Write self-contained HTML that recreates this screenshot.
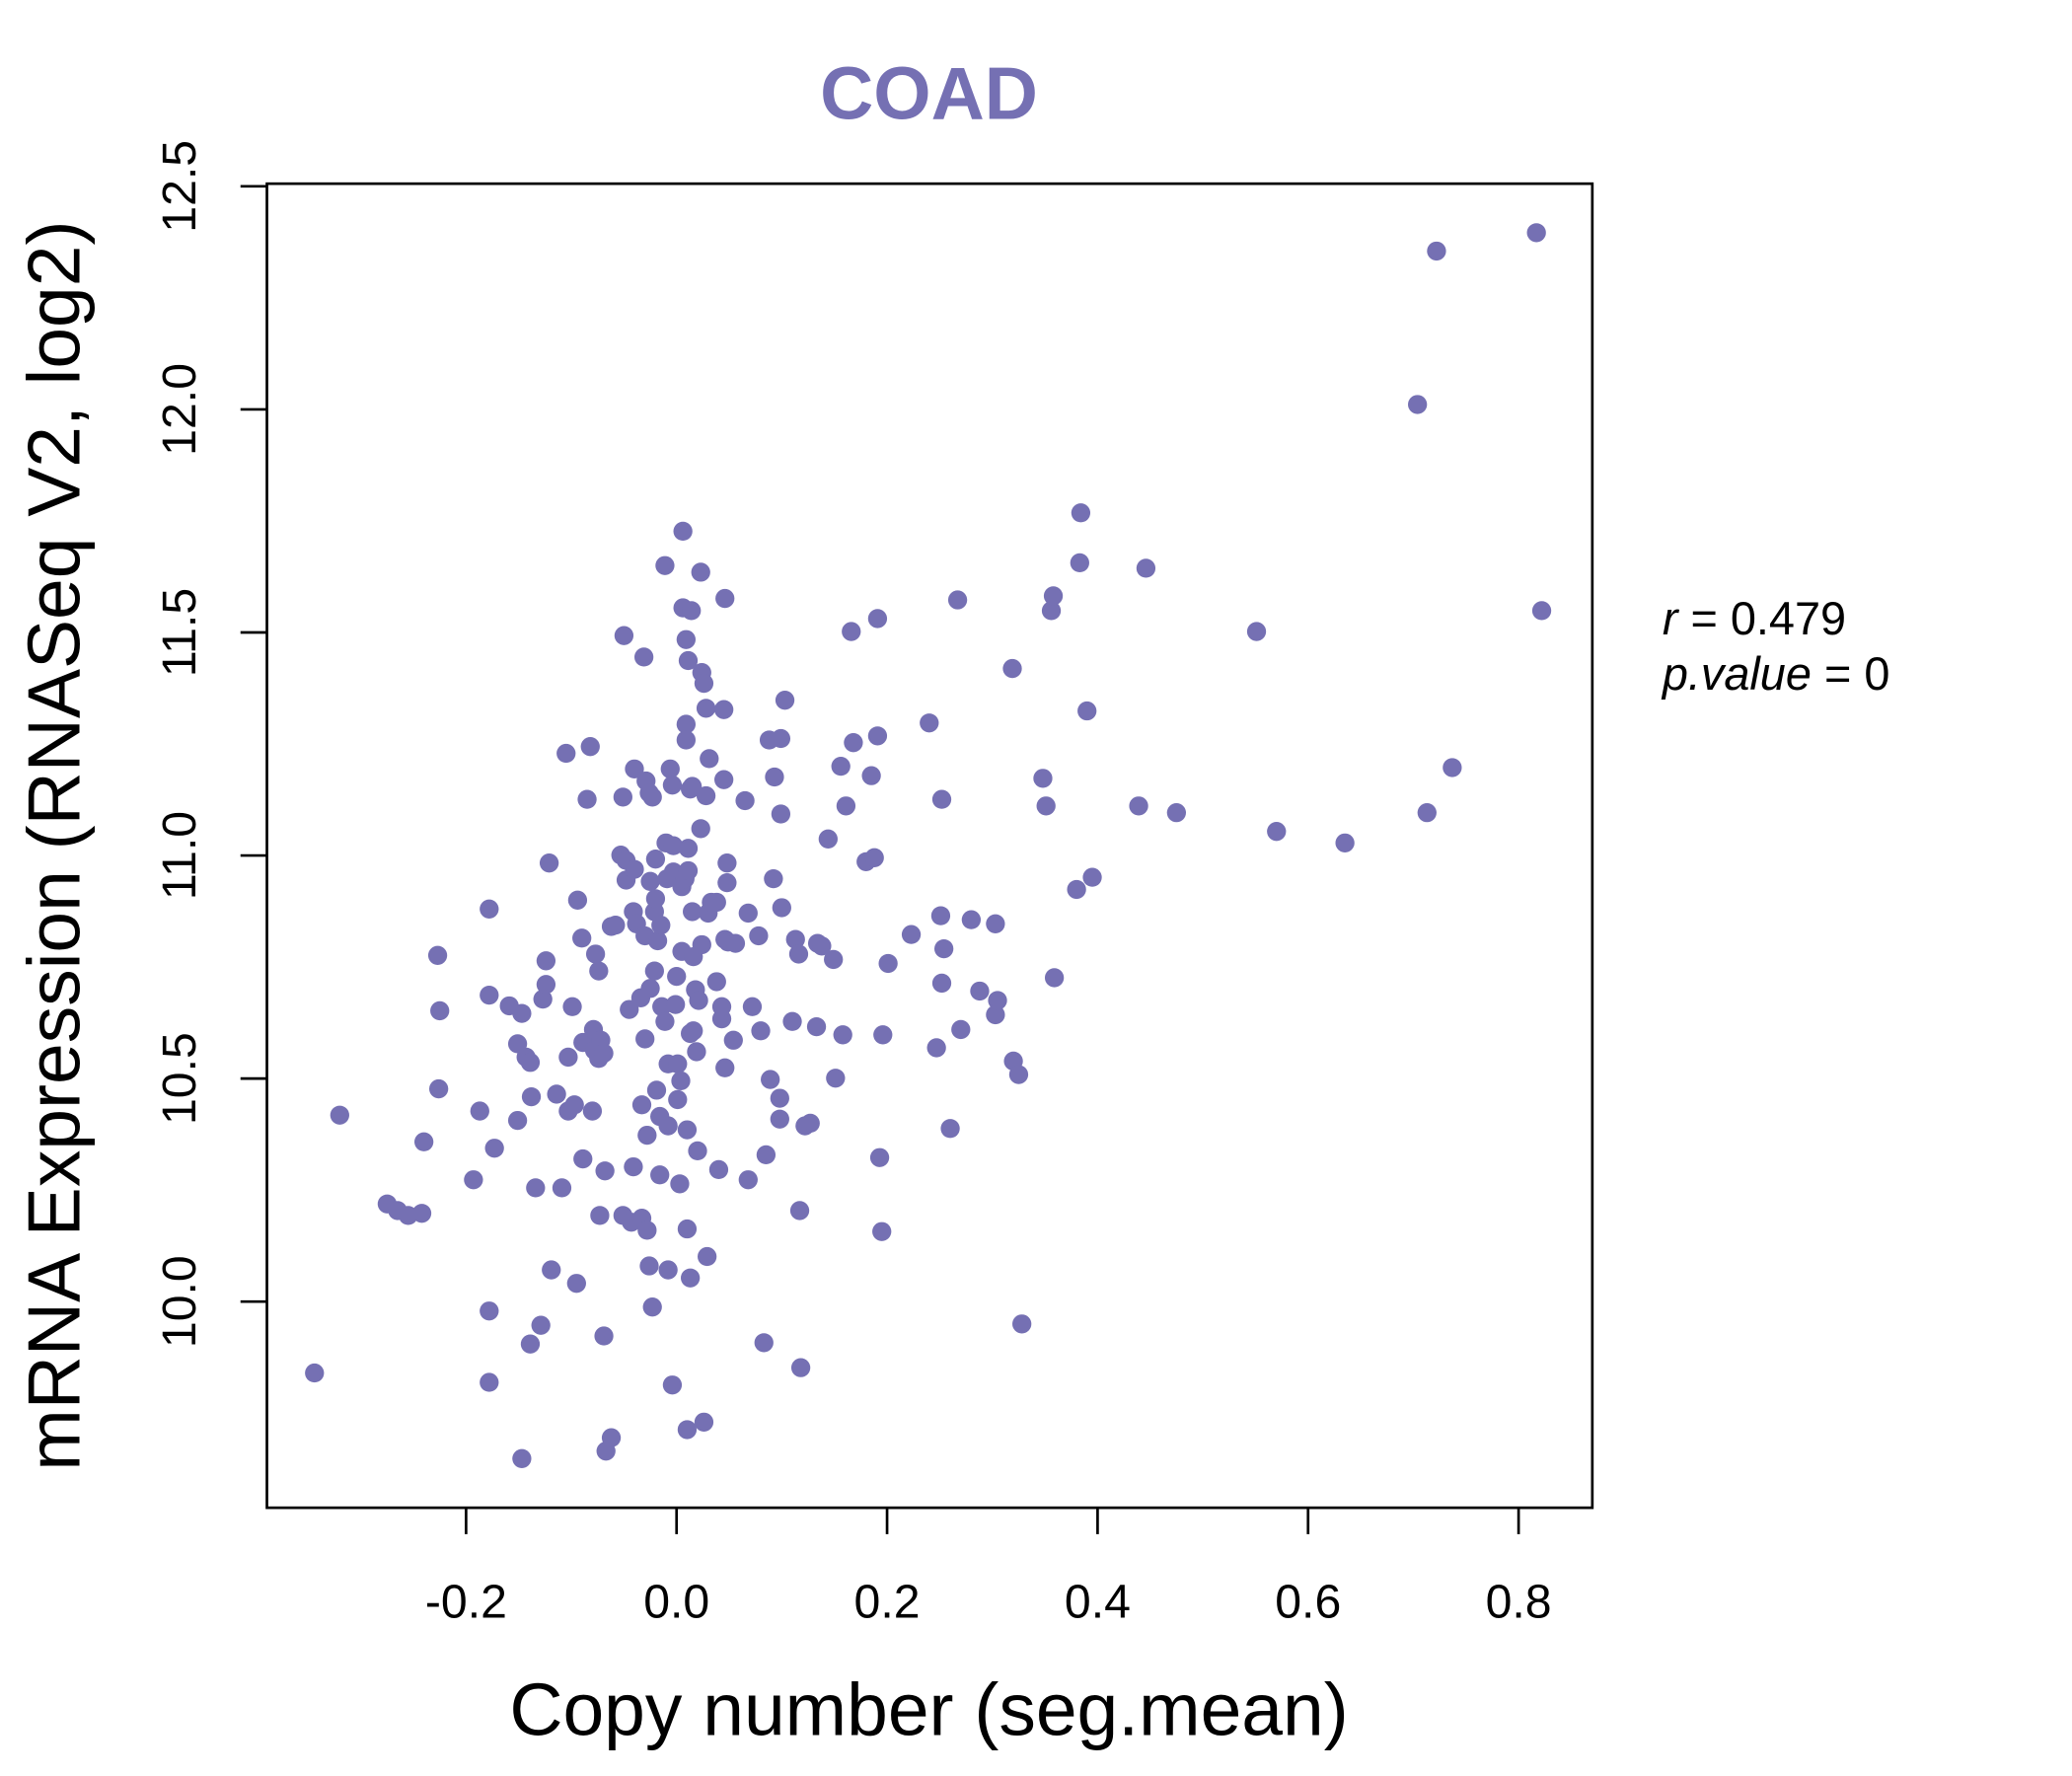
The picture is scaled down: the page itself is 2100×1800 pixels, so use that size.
<!DOCTYPE html>
<html><head><meta charset="utf-8"><style>
html,body{margin:0;padding:0;background:#fff;}
svg{display:block;font-family:"Liberation Sans",sans-serif;}
</style></head><body>
<svg id="chart" width="2100" height="1800" viewBox="0 0 1568 1344" xmlns="http://www.w3.org/2000/svg">
<rect x="0" y="0" width="1568" height="1344" fill="#fff"/>
<text x="703" y="90" text-anchor="middle" font-size="56" font-weight="bold" fill="#7570b3">COAD</text>
<g id="points"></g>
<rect x="202" y="139" width="1003" height="1002" fill="none" stroke="#000" stroke-width="2"/>
<g id="xaxis"></g>
<g id="yaxis"></g>
<text x="703" y="1313" text-anchor="middle" font-size="56">Copy number (seg.mean)</text>
<text transform="translate(60,640) rotate(-90)" text-anchor="middle" font-size="56">mRNA Expression (RNASeq V2, log2)</text>
<text x="1258" y="480" font-size="35"><tspan font-style="italic">r</tspan> = 0.479</text>
<text x="1258" y="522" font-size="35"><tspan font-style="italic">p.value</tspan> = 0</text>
</svg>
<script>
const xTicks = [-0.2, 0.0, 0.2, 0.4, 0.6, 0.8];
const xTickLabels = ["-0.2", "0.0", "0.2", "0.4", "0.6", "0.8"];
const yTicks = [10.0, 10.5, 11.0, 11.5, 12.0, 12.5];
const yTickLabels = ["10.0", "10.5", "11.0", "11.5", "12.0", "12.5"];
const copyNumber = [-0.344,-0.320,-0.275,-0.265,-0.255,-0.242,-0.240,-0.227,-0.225,-0.226,-0.193,-0.187,-0.178,-0.178,-0.178,-0.178,-0.173,-0.159,-0.151,-0.151,-0.147,-0.147,-0.143,-0.139,-0.139,-0.138,-0.134,-0.129,-0.127,-0.124,-0.124,-0.121,-0.119,-0.114,-0.109,-0.105,-0.103,-0.103,-0.099,-0.097,-0.095,-0.094,-0.090,-0.089,-0.089,-0.085,-0.082,-0.080,-0.079,-0.078,-0.077,-0.074,-0.074,-0.073,-0.072,-0.069,-0.069,-0.068,-0.067,-0.062,-0.062,-0.058,-0.053,-0.051,-0.051,-0.050,-0.048,-0.048,-0.045,-0.043,-0.041,-0.041,-0.040,-0.040,-0.038,-0.034,-0.033,-0.033,-0.031,-0.030,-0.030,-0.029,-0.028,-0.028,-0.026,-0.026,-0.025,-0.025,-0.023,-0.023,-0.021,-0.021,-0.020,-0.020,-0.019,-0.018,-0.016,-0.016,-0.015,-0.014,-0.011,-0.011,-0.010,-0.009,-0.008,-0.008,-0.008,-0.006,-0.004,-0.004,-0.003,-0.003,-0.001,0.000,0.001,0.001,0.003,0.004,0.005,0.005,0.006,0.006,0.008,0.009,0.009,0.009,0.010,0.010,0.010,0.011,0.011,0.011,0.013,0.013,0.013,0.014,0.015,0.015,0.016,0.016,0.018,0.019,0.020,0.021,0.023,0.023,0.024,0.024,0.026,0.026,0.028,0.028,0.029,0.030,0.031,0.033,0.038,0.038,0.040,0.043,0.043,0.045,0.045,0.046,0.046,0.046,0.048,0.048,0.049,0.054,0.056,0.065,0.068,0.068,0.072,0.078,0.080,0.083,0.085,0.088,0.089,0.092,0.093,0.098,0.098,0.099,0.099,0.100,0.103,0.110,0.113,0.116,0.117,0.118,0.122,0.127,0.133,0.134,0.138,0.144,0.149,0.151,0.158,0.156,0.161,0.166,0.168,0.180,0.185,0.188,0.191,0.191,0.193,0.195,0.196,0.201,0.223,0.240,0.247,0.251,0.252,0.252,0.254,0.260,0.267,0.270,0.280,0.288,0.303,0.303,0.305,0.319,0.320,0.325,0.328,0.348,0.351,0.356,0.358,0.380,0.383,0.384,0.390,0.395,0.439,0.446,0.475,0.551,0.570,0.635,0.704,0.713,0.722,0.737,0.817,0.822,0.359];
const expression = [9.840,10.418,10.219,10.204,10.193,10.198,10.358,10.776,10.652,10.477,10.273,10.427,10.880,10.687,9.979,9.819,10.344,10.663,10.578,10.406,10.646,9.648,10.548,10.536,9.905,10.459,10.255,9.947,10.678,10.711,10.764,10.983,10.071,10.465,10.255,11.229,10.548,10.427,10.661,10.441,10.041,10.900,10.815,10.320,10.581,11.126,11.244,10.427,10.610,10.563,10.779,10.741,10.545,10.193,10.586,9.923,10.557,10.293,9.665,9.695,10.841,10.844,11.001,10.193,11.131,11.493,10.989,10.945,10.655,10.178,10.302,10.874,11.194,10.969,10.847,10.681,10.441,10.187,11.445,10.589,10.820,11.167,10.160,10.373,10.080,11.140,10.942,10.702,9.988,11.131,10.741,10.874,10.992,10.903,10.474,10.809,10.415,10.284,10.844,10.661,11.650,10.628,11.028,10.948,10.071,10.394,10.533,11.194,9.813,11.158,11.022,10.963,10.666,10.729,10.453,10.533,10.264,10.495,10.785,10.930,11.727,11.555,10.948,11.484,11.294,11.259,10.385,10.163,9.713,11.437,11.016,10.966,10.601,10.053,11.149,11.549,11.155,10.874,10.773,10.607,10.699,10.560,10.338,10.675,11.635,11.060,10.800,11.410,11.386,9.730,11.330,11.134,10.101,10.871,11.217,10.895,10.895,10.717,10.296,10.634,10.661,11.170,11.327,11.576,10.524,10.812,10.939,10.983,10.806,10.586,10.803,11.123,10.871,10.273,10.661,10.820,10.607,9.908,10.329,11.259,10.498,10.948,11.176,10.456,10.409,11.262,11.093,10.883,11.348,10.628,10.812,10.779,10.204,9.852,10.394,10.400,10.616,10.803,10.797,11.037,10.767,10.501,10.598,11.200,11.111,11.502,11.253,10.986,11.179,10.995,11.268,11.531,10.323,10.157,10.598,10.758,10.823,11.297,10.569,10.865,10.714,11.126,10.791,10.388,11.573,10.610,10.856,10.696,10.847,10.643,10.675,11.419,10.539,10.509,9.950,11.173,11.111,11.549,11.582,10.924,11.656,11.768,11.324,10.951,11.111,11.644,11.096,11.502,11.054,11.028,12.011,11.096,12.355,11.197,12.396,11.549,10.726];

const NS = "http://www.w3.org/2000/svg";
function xScale(v){ return 512 + (v - 0.0) * 796.5; }
function yScale(v){ return 985 - (v - 10.0) * 337.6; }

const pts = document.getElementById('points');
for (let i = 0; i < copyNumber.length; i++) {
  const c = document.createElementNS(NS, 'circle');
  c.setAttribute('cx', xScale(copyNumber[i]).toFixed(1));
  c.setAttribute('cy', yScale(expression[i]).toFixed(1));
  c.setAttribute('r', '7.2');
  c.setAttribute('fill', '#7570b3');
  
  
  pts.appendChild(c);
}

const xg = document.getElementById('xaxis');
xTicks.forEach((t, i) => {
  const x = xScale(t);
  const l = document.createElementNS(NS, 'line');
  l.setAttribute('x1', x); l.setAttribute('x2', x);
  l.setAttribute('y1', 1141); l.setAttribute('y2', 1161);
  l.setAttribute('stroke', '#000'); l.setAttribute('stroke-width', '2');
  
  
  xg.appendChild(l);
  const tx = document.createElementNS(NS, 'text');
  tx.setAttribute('x', x); tx.setAttribute('y', 1224);
  tx.setAttribute('text-anchor', 'middle'); tx.setAttribute('font-size', '36');
  tx.textContent = xTickLabels[i];
  
  
  xg.appendChild(tx);
});

const yg = document.getElementById('yaxis');
yTicks.forEach((t, i) => {
  const y = yScale(t);
  const l = document.createElementNS(NS, 'line');
  l.setAttribute('x1', 182); l.setAttribute('x2', 202);
  l.setAttribute('y1', y); l.setAttribute('y2', y);
  l.setAttribute('stroke', '#000'); l.setAttribute('stroke-width', '2');
  
  
  yg.appendChild(l);
  const tx = document.createElementNS(NS, 'text');
  tx.setAttribute('transform', 'translate(148,' + y + ') rotate(-90)');
  tx.setAttribute('text-anchor', 'middle'); tx.setAttribute('font-size', '36');
  tx.textContent = yTickLabels[i];
  
  
  yg.appendChild(tx);
});
</script>
</body></html>
